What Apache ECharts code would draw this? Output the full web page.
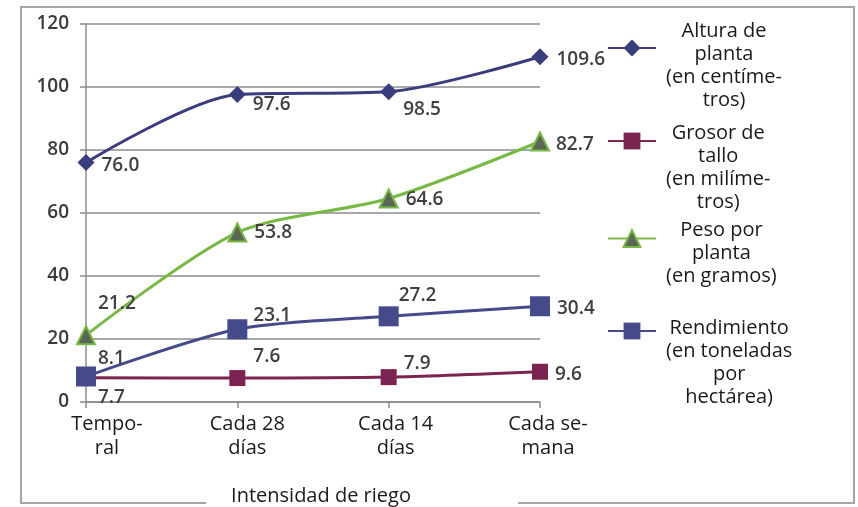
<!DOCTYPE html>
<html>
<head>
<meta charset="utf-8">
<script src="https://cdn.jsdelivr.net/npm/echarts@6/dist/echarts.min.js"></script>
<style>html,body{margin:0;padding:0;background:#fff;}#chart{width:858px;height:507px;}</style>
</head>
<body>
<div id="chart"></div>
<script>
// ---- data ----
var categories = ['Tempo-\nral', 'Cada 28\ndías', 'Cada 14\ndías', 'Cada se-\nmana'];
var yTicks = [0, 20, 40, 60, 80, 100, 120];
var seriesNames = [
  'Altura de\nplanta\n(en centíme-\ntros)',
  'Grosor de\ntallo\n(en milíme-\ntros)',
  'Peso por\nplanta\n(en gramos)',
  'Rendimiento\n(en toneladas\npor\nhectárea)'
];
var altura = [76.0, 97.6, 98.5, 109.6];
var grosor = [7.7, 7.6, 7.9, 9.6];
var peso = [21.2, 53.8, 64.6, 82.7];
var rendimiento = [8.1, 23.1, 27.2, 30.4];
var axisName = 'Intensidad de riego';

// ---- styling (not data) ----
var FONT = '"Open Sans", "DejaVu Sans", sans-serif';
var catShift = [21, 10, 7, 8];
var labelOffsets = [
  [[2, 3], [2, 10], [1, 18], [3, 3]],
  [[-1, 20], [3, -21], [2, -14], [2, 3]],
  [[-3, -32], [2, 0], [2, 1], [1, 3]],
  [[-3, -18], [1, -14], [-5, -21], [2, 2]]
];
var styles = [
  {line: '#3a3d7c', fill: '#3a3d7c', border: '#3a3d7c', symbol: 'diamond', size: 17},
  {line: '#7b2452', fill: '#7b2452', border: '#7b2452', symbol: 'rect', size: 16},
  {line: '#78b845', fill: '#5c6655', border: '#78b845', symbol: 'triangle', size: 18},
  {line: '#454a8a', fill: '#454a8a', border: '#454a8a', symbol: 'rect', size: 20}
];
var legendTops = [-16, 68, 189, 253];
var legendPads = [36, 54, 30, 64];

var values = [altura, grosor, peso, rendimiento];

var series = values.map(function (vals, si) {
  var st = styles[si];
  return {
    name: seriesNames[si],
    type: 'line',
    smooth: 0.28,
    symbol: st.symbol,
    symbolSize: st.size,
    lineStyle: {color: st.line, width: 3},
    itemStyle: {color: st.fill, borderColor: st.border, borderWidth: si === 2 ? 2 : 0},
    label: {
      show: true,
      position: 'right',
      distance: 5,
      fontFamily: FONT,
      fontSize: 19,
      fontWeight: 600,
      color: '#404040',
      formatter: function (p) { return Number(p.value).toFixed(1); }
    },
    data: vals.map(function (v, i) {
      return {value: v, label: {offset: labelOffsets[si][i]}};
    }),
    z: 3 + (si === 3 ? 1 : 0)
  };
});

function legendFormatter(name) {
  return name.split('\n').map(function (l) { return '{c|' + l + '}'; }).join('\n');
}

var legends = seriesNames.map(function (nm, i) {
  return {
    data: [nm],
    orient: 'vertical',
    left: 607,
    top: legendTops[i],
    padding: 0,
    itemWidth: 48,
    itemHeight: 21,
    selectedMode: false,
    formatter: legendFormatter,
    textStyle: {
      fontFamily: FONT,
      fontSize: 20,
      lineHeight: 23,
      color: '#1a1a1a',
      padding: [legendPads[i], 0, 0, 5],
      rich: {c: {align: 'center', fontFamily: FONT, fontSize: 20, lineHeight: 23, color: '#1a1a1a'}}
    }
  };
});

var chart = echarts.init(document.getElementById('chart'), null, {renderer: 'canvas'});
chart.setOption({
  animation: false,
  backgroundColor: '#ffffff',
  grid: {left: 86, right: 318, top: 24, bottom: 105, containLabel: false, outerBoundsMode: 'none'},
  legend: legends,
  xAxis: {
    type: 'category',
    boundaryGap: false,
    data: categories.map(function (c, i) {
      return {value: c, textStyle: {padding: [0, 0, 0, 2 * catShift[i]]}};
    }),
    name: axisName,
    nameLocation: 'middle',
    nameGap: 84,
    nameTextStyle: {fontFamily: FONT, fontSize: 20, color: '#1a1a1a', padding: [0, 0, 0, 16]},
    axisLine: {lineStyle: {color: '#8c8c8c', width: 1.5}},
    axisTick: {show: true, length: 6, lineStyle: {color: '#8c8c8c', width: 1.5}},
    axisLabel: {fontFamily: FONT, fontSize: 20, lineHeight: 24, color: '#1a1a1a', margin: 10, interval: 0},
    splitLine: {show: false}
  },
  yAxis: {
    type: 'value',
    min: yTicks[0],
    max: yTicks[yTicks.length - 1],
    interval: yTicks[1] - yTicks[0],
    axisLine: {show: true, lineStyle: {color: '#8c8c8c', width: 1.5}},
    axisTick: {show: true, length: 6, lineStyle: {color: '#8c8c8c', width: 1.5}},
    axisLabel: {fontFamily: FONT, fontSize: 19, fontWeight: 600, color: '#3a3a3a', margin: 17},
    splitLine: {show: true, lineStyle: {color: '#8c8c8c', width: 1.5}}
  },
  graphic: [{
    type: 'polyline',
    shape: {points: [[206, 503], [21, 503], [21, 7], [854, 7], [854, 503], [518, 503]]},
    style: {stroke: '#a6a6a6', lineWidth: 2, fill: null},
    silent: true
  }],
  series: series
});
</script>
</body>
</html>
